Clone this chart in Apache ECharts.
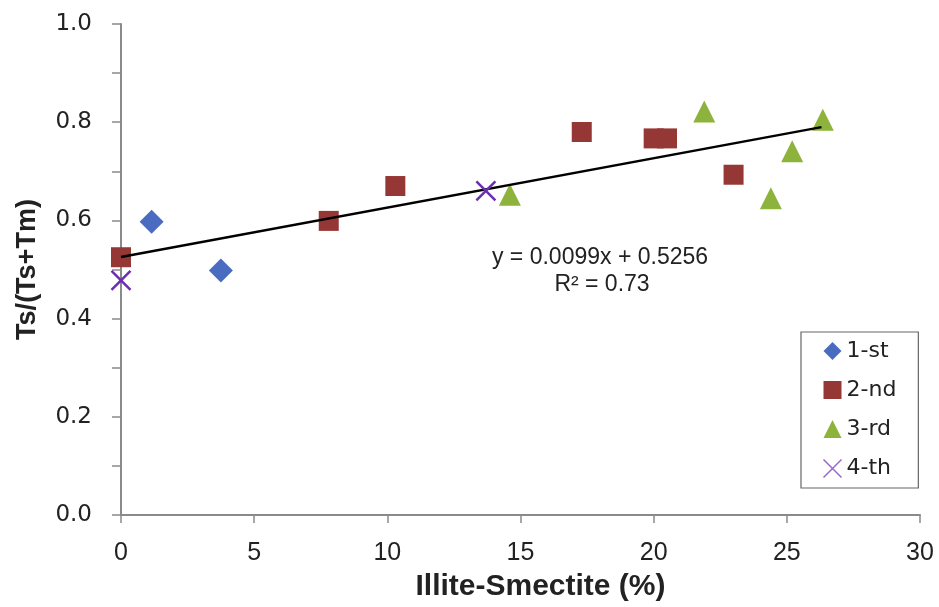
<!DOCTYPE html>
<html><head><meta charset="utf-8">
<script src="https://cdn.jsdelivr.net/npm/echarts@6/dist/echarts.min.js"></script>
<style>html,body{margin:0;padding:0;background:#fff}#c{width:939px;height:607px}</style>
</head><body><div id="c"></div>
<script>
const seriesNames = ['1-st', '2-nd', '3-rd', '4-th'];
const first = [[1.15, 0.597], [3.75, 0.498]];
const second = [[0, 0.525], [7.8, 0.599], [10.3, 0.670], [17.3, 0.780], [20.0, 0.767], [20.5, 0.767], [23.0, 0.693]];
const third = [[14.6, 0.652], [21.9, 0.822], [26.35, 0.805], [25.2, 0.741], [24.4, 0.645]];
const fourth = [[0, 0.478], [13.7, 0.660]];
const trendEnds = [[0, 0.5256], [26.3, 0.79]];
const eqLines = ['y = 0.0099x + 0.5256', 'R² = 0.73'];
const xTicks = [0, 5, 10, 15, 20, 25, 30];
const yTicks = [0, 0.2, 0.4, 0.6, 0.8, 1.0];

const xPath = 'path://M0,0L10,10M10,0L0,10';
const chart = echarts.init(document.getElementById('c'));
const axisCol = '#8a8a8a';
chart.setOption({
  animation: false,
  grid: {left: 121, right: 19, top: 24, bottom: 91, containLabel: false},
  xAxis: {
    type: 'value', min: xTicks[0], max: xTicks[xTicks.length - 1], interval: 5,
    name: 'Illite-Smectite (%)', nameLocation: 'middle', nameGap: 57,
    nameTextStyle: {fontFamily: 'Liberation Sans', fontSize: 30, fontWeight: 'bold', color: '#222', padding: [0, 0, 0, 40]},
    axisLine: {lineStyle: {color: axisCol, width: 2}},
    axisTick: {show: true, inside: false, length: 8, lineStyle: {color: axisCol, width: 1.5}},
    axisLabel: {fontFamily: 'Liberation Sans', fontSize: 25, color: '#222', margin: 26},
    splitLine: {show: false}
  },
  yAxis: {
    type: 'value', min: yTicks[0], max: yTicks[yTicks.length - 1], interval: 0.2,
    name: 'Ts/(Ts+Tm)', nameLocation: 'middle', nameGap: 80, nameRotate: 90,
    nameTextStyle: {fontFamily: 'Liberation Sans', fontSize: 27, fontWeight: 'bold', color: '#222'},
    axisLine: {lineStyle: {color: axisCol, width: 2}},
    axisTick: {show: true, length: 9, lineStyle: {color: axisCol, width: 1.5}},
    minorTick: {show: true, splitNumber: 2, length: 9, lineStyle: {color: axisCol, width: 1.5}},
    axisLabel: {fontFamily: 'DejaVu Sans', fontSize: 23, color: '#222', margin: 29, formatter: v => v.toFixed(1)},
    splitLine: {show: false}
  },
  legend: {
    orient: 'vertical', left: 801, top: 332,
    data: [
      {name: seriesNames[0], icon: 'diamond'},
      {name: seriesNames[1], icon: 'rect'},
      {name: seriesNames[2], icon: 'triangle'},
      {name: seriesNames[3], icon: xPath, itemStyle: {color: 'none', borderColor: '#9966cc', borderWidth: 1.5}}
    ],
    itemWidth: 18, itemHeight: 18, itemGap: 17,
    borderColor: '#666', borderWidth: 1.2, padding: [8, 22, 8, 20],
    textStyle: {fontFamily: 'DejaVu Sans', fontSize: 22, color: '#222'}
  },
  series: [
    {name: 'trend', type: 'line', data: trendEnds, symbol: 'none', lineStyle: {color: '#000', width: 2.5}, z: 5, silent: true},
    {name: seriesNames[0], type: 'scatter', data: first, symbol: 'diamond', symbolSize: 24, itemStyle: {color: '#4a6cc0', opacity: 1}, z: 3},
    {name: seriesNames[1], type: 'scatter', data: second, symbol: 'rect', symbolSize: 20, itemStyle: {color: '#953735', opacity: 1}, z: 3},
    {name: seriesNames[2], type: 'scatter', data: third, symbol: 'triangle', symbolSize: 22, itemStyle: {color: '#8db33d', opacity: 1}, z: 3},
    {name: seriesNames[3], type: 'scatter', data: fourth, symbol: xPath, symbolSize: 19, itemStyle: {color: 'none', borderColor: '#6a2fb0', borderWidth: 2.5, opacity: 1}, z: 6}
  ],
  graphic: [
    {type: 'text', x: 600, y: 258, style: {text: eqLines[0], fontFamily: 'Liberation Sans', fontSize: 23, fill: '#222', align: 'center', verticalAlign: 'middle'}},
    {type: 'text', x: 602, y: 285, style: {text: eqLines[1], fontFamily: 'Liberation Sans', fontSize: 23, fill: '#222', align: 'center', verticalAlign: 'middle'}}
  ]
});
</script></body></html>
